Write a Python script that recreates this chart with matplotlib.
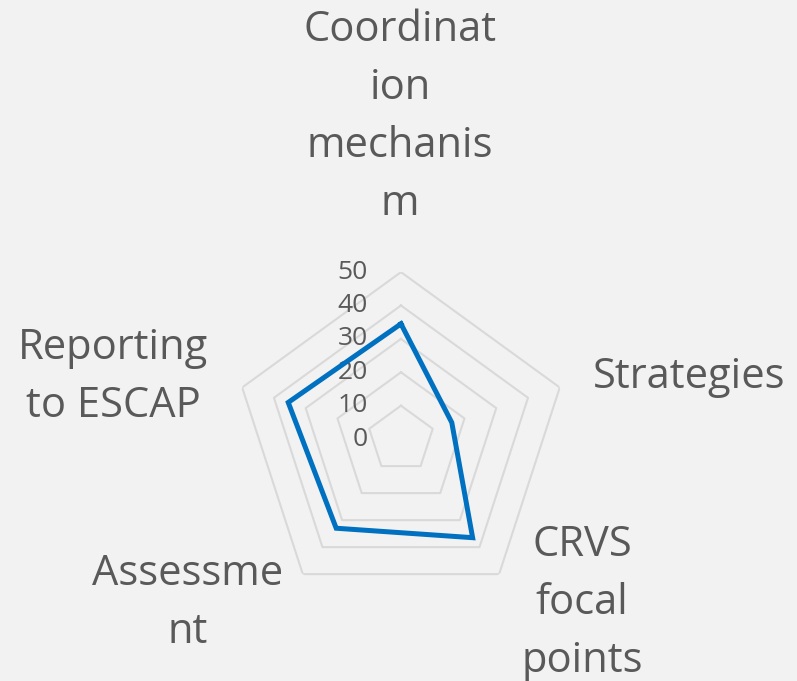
import numpy as np
import matplotlib
matplotlib.use("Agg")
import matplotlib.pyplot as plt

categories = ["Coordinat\nion\nmechanis\nm", "Strategies", "CRVS\nfocal\npoints",
              "Assessme\nnt", "Reporting\nto ESCAP"]
values = [34.5, 16, 36.5, 33, 35.5]
rings = [10, 20, 30, 40, 50]
tick_labels = ["0", "10", "20", "30", "40", "50"]

BG = "#F2F2F2"
GRID = "#D9D9D9"
TEXT = "#595959"
LINE = "#0070C0"

plt.rcParams["font.family"] = ["Open Sans", "DejaVu Sans"]

fig = plt.figure(figsize=(7.97, 6.81), dpi=100, facecolor=BG)
ax = fig.add_axes([0.2936, 0.110, 0.419, 0.4905], projection="polar")
ax.set_facecolor("none")
ax.set_theta_offset(np.pi / 2)
ax.set_theta_direction(-1)
ax.set_ylim(0, 50)
ax.grid(False)
ax.spines["polar"].set_visible(False)
ax.set_xticks([])
ax.set_yticks([])

n = len(categories)
angles = np.linspace(0, 2 * np.pi, n, endpoint=False)
closed = np.append(angles, angles[0])

for r in rings:
    ax.plot(closed, [r] * (n + 1), color=GRID, lw=1.5, zorder=1)

ax.plot(closed, values + values[:1], color=LINE, lw=3.6, solid_joinstyle="miter", zorder=3)

# value axis labels, drawn left of the top spoke
for i, lab in enumerate(tick_labels):
    ax.annotate(lab, xy=(0, i * 10), xytext=(-24, 0), textcoords="offset points",
                ha="right", va="center", fontsize=19, color=TEXT, zorder=2)

label_pos = [(400, 117), (689, 377), (582, 603), (188, 603), (113, 377)]
for lab, (px, py) in zip(categories, label_pos):
    fig.text(px / 797, 1 - py / 681, lab, ha="center", va="center", fontsize=30,
             color=TEXT, linespacing=1.5)

fig.savefig("out.png", dpi=100, facecolor=BG)
